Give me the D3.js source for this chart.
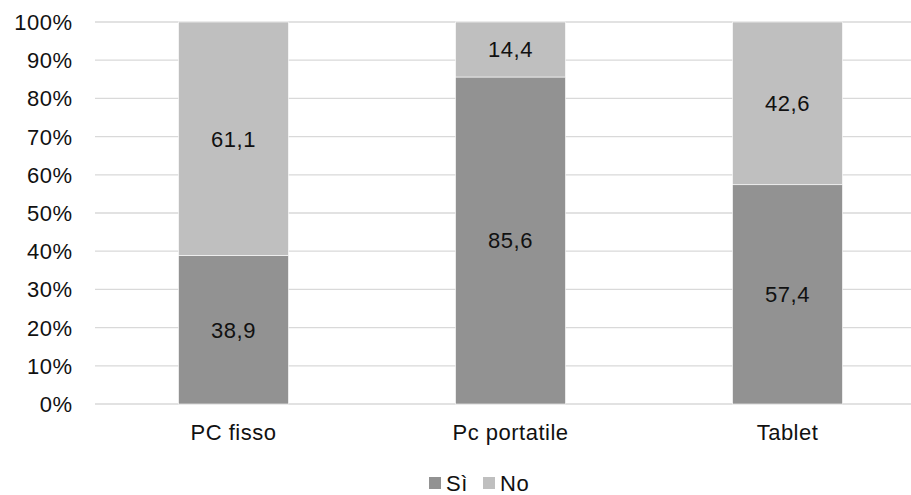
<!DOCTYPE html>
<html><head><meta charset="utf-8">
<script src="https://cdn.jsdelivr.net/npm/d3@7"></script>
<style>body{margin:0;background:#fff}svg{display:block;font-family:"Liberation Sans",Arial,sans-serif}</style>
</head><body><svg id="c" width="911" height="495"></svg>
<script>
const categories = ["PC fisso", "Pc portatile", "Tablet"];
const siValues = [38.9, 85.6, 57.4];
const noValues = [61.1, 14.4, 42.6];
const seriesNames = ["Sì", "No"];
const seriesColors = ["#929292", "#bfbfbf"];
const yTicks = [0,10,20,30,40,50,60,70,80,90,100];

(function(){
const svg = d3.select("#c");
const FS = 22, LS = 0.5, TXT = "#111111";
const pLeft = 95, pRight = 926, pTop = 22, pBottom = 404;
const x = d3.scaleBand().domain(categories).range([pLeft, pRight]).paddingInner(0.603).paddingOuter(0.3015);
const y = d3.scaleLinear().domain([0, 100]).range([pBottom, pTop]);

svg.append("g").selectAll("line").data(yTicks).join("line")
  .attr("x1", pLeft).attr("x2", pRight)
  .attr("y1", d => y(d)).attr("y2", d => y(d))
  .attr("stroke", "#d9d9d9").attr("stroke-width", 1.3);

svg.append("g").selectAll("text").data(yTicks).join("text")
  .attr("x", 72.5).attr("y", d => y(d)).attr("dy", "0.36em")
  .attr("text-anchor", "end").attr("font-size", FS).attr("letter-spacing", LS).attr("fill", TXT)
  .text(d => d + "%");

const rows = categories.map((c, i) => ({cat: c, "Sì": siValues[i], "No": noValues[i]}));
const stack = d3.stack().keys(seriesNames)(rows);

const g = svg.append("g");
stack.forEach((layer, li) => {
  g.append("g").selectAll("rect").data(layer).join("rect")
    .attr("x", d => x(d.data.cat)).attr("width", x.bandwidth())
    .attr("y", d => y(d[1])).attr("height", d => y(d[0]) - y(d[1]))
    .attr("fill", seriesColors[li]).attr("stroke", "#ffffff").attr("stroke-width", 0.6);
  g.append("g").selectAll("text").data(layer).join("text")
    .attr("x", d => x(d.data.cat) + x.bandwidth() / 2)
    .attr("y", d => y((d[0] + d[1]) / 2)).attr("dy", "0.36em")
    .attr("text-anchor", "middle").attr("font-size", FS).attr("letter-spacing", LS).attr("fill", TXT)
    .text(d => d3.format(".1f")(d[1] - d[0]).replace(".", ","));
});

svg.append("g").selectAll("text").data(categories).join("text")
  .attr("x", d => x(d) + x.bandwidth() / 2).attr("y", 440)
  .attr("text-anchor", "middle").attr("font-size", FS).attr("letter-spacing", LS).attr("fill", TXT)
  .text(d => d);

const legX = [429, 483];
const leg = svg.append("g");
seriesNames.forEach((s, i) => {
  leg.append("rect").attr("x", legX[i]).attr("y", 477).attr("width", 12).attr("height", 12).attr("fill", seriesColors[i]);
  leg.append("text").attr("x", legX[i] + 17).attr("y", 491).attr("font-size", FS).attr("letter-spacing", LS).attr("fill", TXT).text(s);
});
})();
</script></body></html>
